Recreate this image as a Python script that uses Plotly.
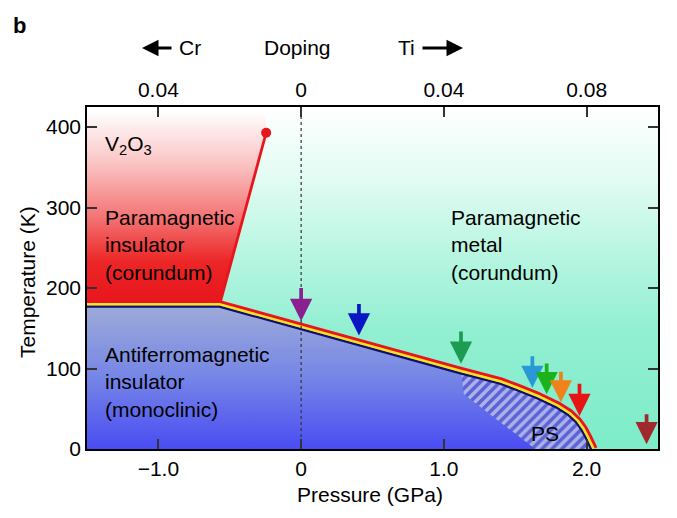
import numpy as np
import plotly.graph_objects as go

# ---------------- data (pressure in GPa, temperature in K) ----------------
BOUND_P = [-1.5, -0.57, 1.12, 1.4, 1.52, 1.66, 1.80, 1.88, 1.94, 1.98, 2.01, 2.03, 2.05]
BOUND_T = [180, 180, 97, 84, 76, 66, 54, 45, 35, 25, 15, 7, 0]

CRIT_P = [-0.57, -0.245]
CRIT_T = [180, 393]

PS_P = [1.12, 1.14, 1.64]
PS_T = [97, 68, 0]

ARROW_P = [0.0, 0.405, 1.12, 1.62, 1.72, 1.82, 1.95, 2.42]
ARROW_T_TOP = [202, 182, 148, 117, 108, 98, 83, 45]
ARROW_T_TIP = [159, 141, 106, 76, 68, 58, 41, 6]
ARROW_COLORS = ["#8b1f8f", "#0a16c4", "#1d9b52", "#2a98d6",
                "#1cb21c", "#f0821c", "#e61414", "#a2292b"]

X_RANGE = [-1.5, 2.5]
Y_RANGE = [0, 425]
DOPING_RANGE = [-0.06, 0.10]
P_TICKS = [-1.0, 0, 1.0, 2.0]
P_TICK_TEXT = ["\u22121.0", "0", "1.0", "2.0"]
DOPING_TICKS = [-0.04, 0, 0.04, 0.08]
DOPING_TICK_TEXT = ["0.04", "0", "0.04", "0.08"]
T_TICKS = [0, 100, 200, 300, 400]

FONT = "Liberation Sans, Arial, sans-serif"
FS = 21
BODY = 8  # default page margin of the html body
W, H = 677 - BODY, 518 - BODY
ML, MR, MT, MB = 87 - BODY, 19, 107 - BODY, 69
PW, PH = W - ML - MR, H - MT - MB
PX_PER_P = PW / (X_RANGE[1] - X_RANGE[0])
PX_PER_T = PH / (Y_RANGE[1] - Y_RANGE[0])


def offset(P, T, d):
    """Shift a polyline by d pixels along its (up/right) normal."""
    x = np.asarray(P, float) * PX_PER_P
    y = np.asarray(T, float) * PX_PER_T
    n = len(x)
    nx = np.zeros(n)
    ny = np.zeros(n)
    for i in range(n - 1):
        dx, dy = x[i + 1] - x[i], y[i + 1] - y[i]
        L = np.hypot(dx, dy)
        for j in (i, i + 1):
            nx[j] += -dy / L
            ny[j] += dx / L
    nrm = np.hypot(nx, ny)
    nx, ny = nx / nrm, ny / nrm
    return (x + d * nx) / PX_PER_P, (y + d * ny) / PX_PER_T


fig = go.Figure()
poly = dict(mode="lines", line=dict(width=0), fill="toself",
            hoverinfo="skip", showlegend=False)

# paramagnetic insulator (red)
fig.add_trace(go.Scatter(
    x=[X_RANGE[0], CRIT_P[0], CRIT_P[1], CRIT_P[1], X_RANGE[0]],
    y=[BOUND_T[0], CRIT_T[0], CRIT_T[1], Y_RANGE[1], Y_RANGE[1]],
    fillgradient=dict(type="vertical", start=180, stop=420,
                      colorscale=[[0, "#e8141c"], [0.22, "#ec2626"],
                                  [0.45, "#f47474"], [0.72, "#fac2c2"],
                                  [1, "#ffffff"]]),
    **poly))

# paramagnetic metal (green)
fig.add_trace(go.Scatter(
    x=[CRIT_P[1], CRIT_P[0]] + BOUND_P[2:] + [X_RANGE[1], X_RANGE[1], CRIT_P[1]],
    y=[CRIT_T[1], CRIT_T[0]] + BOUND_T[2:] + [Y_RANGE[0], Y_RANGE[1], Y_RANGE[1]],
    fillgradient=dict(type="vertical", start=0, stop=425,
                      colorscale=[[0, "#7decc9"], [0.35, "#92efd2"],
                                  [0.55, "#b4f5e0"], [0.78, "#e0fbf2"],
                                  [1, "#ffffff"]]),
    **poly))

# antiferromagnetic insulator (blue)
fig.add_trace(go.Scatter(
    x=BOUND_P + [X_RANGE[0]],
    y=BOUND_T + [Y_RANGE[0]],
    fillgradient=dict(type="vertical", start=0, stop=180,
                      colorscale=[[0, "#4a4cf2"], [0.5, "#7686e6"],
                                  [1, "#9eacd8"]]),
    **poly))

# phase separation (hatched)
fig.add_trace(go.Scatter(
    x=PS_P + BOUND_P[:2:-1],
    y=PS_T + BOUND_T[:2:-1],
    mode="lines", line=dict(width=0), fill="toself",
    fillcolor="rgba(0,0,0,0)",
    fillpattern=dict(shape="/", fgcolor="#ffffff", bgcolor="#5a62d4",
                     size=7, solidity=0.5),
    hoverinfo="skip", showlegend=False))

# critical line PI-PM
fig.add_trace(go.Scatter(x=CRIT_P, y=CRIT_T, mode="lines",
                         line=dict(color="#e8161c", width=2.8),
                         hoverinfo="skip", showlegend=False))

# tri-colour phase boundary
for d, col, w in [(-2.4, "#10106e", 2.4), (0.0, "#fbe21c", 2.8), (2.6, "#e8161c", 2.8)]:
    bx, by = offset(BOUND_P, BOUND_T, d)
    fig.add_trace(go.Scatter(x=bx, y=by, mode="lines",
                             line=dict(color=col, width=w),
                             hoverinfo="skip", showlegend=False))

# ambient pressure dotted line
fig.add_trace(go.Scatter(x=[0, 0], y=Y_RANGE, mode="lines",
                         line=dict(color="#333333", width=1.2, dash="dot"),
                         hoverinfo="skip", showlegend=False))

# critical end point
fig.add_trace(go.Scatter(x=[CRIT_P[1]], y=[CRIT_T[1]], mode="markers",
                         marker=dict(color="#e8161c", size=10),
                         hoverinfo="skip", showlegend=False))

# invisible trace for the doping axis
fig.add_trace(go.Scatter(x=DOPING_RANGE, y=[None, None], xaxis="x2",
                         mode="markers", hoverinfo="skip", showlegend=False))

ann = []
for p, t0, t1, c in zip(ARROW_P, ARROW_T_TOP, ARROW_T_TIP, ARROW_COLORS):
    ann.append(dict(x=p, y=t1, ax=p, ay=t0, xref="x", yref="y", axref="x", ayref="y",
                    text="", showarrow=True, arrowhead=2, arrowsize=1.2,
                    arrowwidth=3.7, arrowcolor=c, standoff=0))

txt = dict(xref="x", yref="y", showarrow=False, xanchor="left", align="left",
           font=dict(size=FS, color="black", family=FONT))
ann.append(dict(x=-1.385, y=378, text="V<sub>2</sub>O<sub>3</sub>", yanchor="middle", **txt))
ann.append(dict(x=-1.385, y=254, text="Paramagnetic<br>insulator<br>(corundum)", yanchor="middle", **txt))
ann.append(dict(x=-1.385, y=83, text="Antiferromagnetic<br>insulator<br>(monoclinic)", yanchor="middle", **txt))
ann.append(dict(x=1.035, y=254, text="Paramagnetic<br>metal<br>(corundum)", yanchor="middle", **txt))
ann.append(dict(x=1.706, y=19, text="PS", xanchor="center", yanchor="middle",
                xref="x", yref="y", showarrow=False,
                font=dict(size=FS, color="black", family=FONT)))


def px(xr):
    """reference-image x pixel -> paper fraction"""
    return (xr - BODY - ML) / PW


def py(yr):
    """reference-image y pixel -> paper fraction"""
    return (H - MB - (yr - BODY)) / PH


ptxt = dict(xref="paper", yref="paper", showarrow=False,
            font=dict(size=FS, color="black", family=FONT))
ann.append(dict(x=px(19), y=py(25), text="<b>b</b>", xanchor="center", yanchor="middle",
                xref="paper", yref="paper", showarrow=False,
                font=dict(size=22, color="black", family=FONT)))
ann.append(dict(x=px(190), y=py(48), text="Cr", xanchor="center", yanchor="middle", **ptxt))
ann.append(dict(x=px(297), y=py(48), text="Doping", xanchor="center", yanchor="middle", **ptxt))
ann.append(dict(x=px(406), y=py(48), text="Ti", xanchor="center", yanchor="middle", **ptxt))
ann.append(dict(x=px(142), y=py(48), ax=31, ay=0, xref="paper", yref="paper", text="",
                showarrow=True, arrowhead=2, arrowsize=1.1, arrowwidth=3, arrowcolor="black",
                standoff=0))
ann.append(dict(x=px(463), y=py(48), ax=-42, ay=0, xref="paper", yref="paper", text="",
                showarrow=True, arrowhead=2, arrowsize=1.1, arrowwidth=3, arrowcolor="black",
                standoff=0))
ann.append(dict(x=px(370), y=py(494), text="Pressure (GPa)", xanchor="center",
                yanchor="middle", **ptxt))
ann.append(dict(x=px(27), y=py(282), text="Temperature (K)", textangle=-90,
                xanchor="center", yanchor="middle", **ptxt))

axis_common = dict(ticks="inside", ticklen=10, tickwidth=1.5, tickcolor="#333333",
                   showline=True, linecolor="black", linewidth=1.5,
                   showgrid=False, zeroline=False,
                   tickfont=dict(size=FS, color="black", family=FONT))

fig.update_layout(
    width=W, height=H,
    margin=dict(l=ML, r=MR, t=MT, b=MB),
    paper_bgcolor="white", plot_bgcolor="white",
    font=dict(family=FONT, color="black"),
    xaxis=dict(range=X_RANGE, tickvals=P_TICKS, ticktext=P_TICK_TEXT,
               mirror=True, **axis_common),
    xaxis2=dict(range=DOPING_RANGE, tickvals=DOPING_TICKS, ticktext=DOPING_TICK_TEXT,
                overlaying="x", side="top", anchor="y", **axis_common),
    yaxis=dict(range=Y_RANGE, tickvals=T_TICKS, mirror="ticks", **axis_common),
    annotations=ann,
    showlegend=False,
)

fig.write_html("out.html")
